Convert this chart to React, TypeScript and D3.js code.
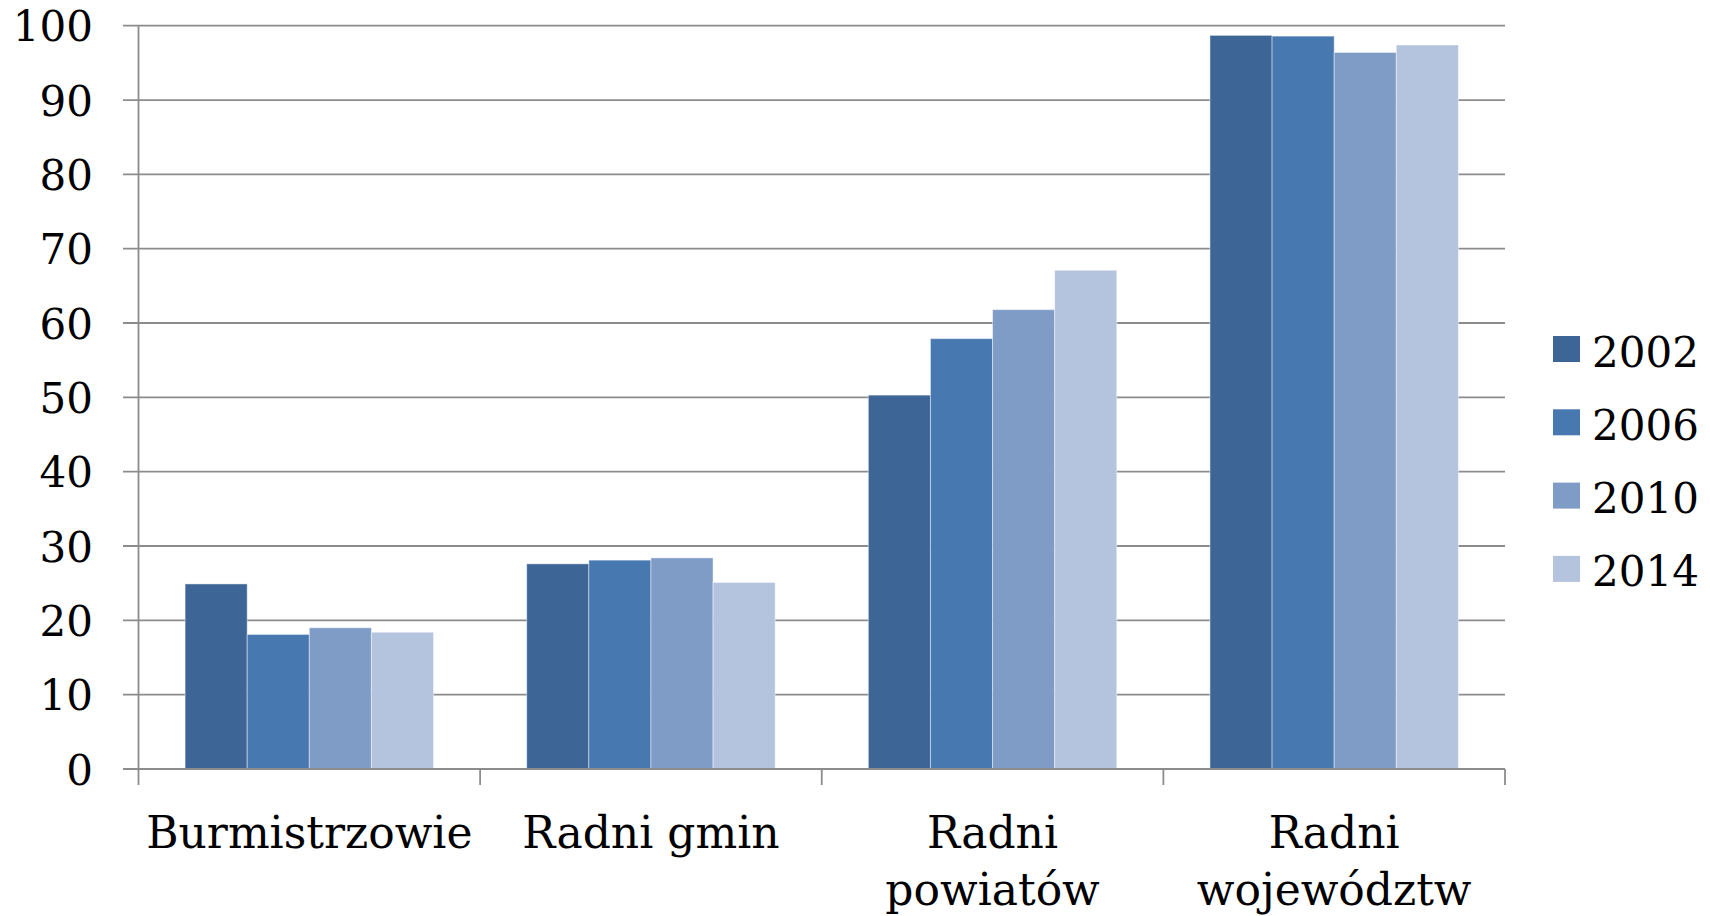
import React from "react";
import * as d3 from "d3";

const categories = ["Burmistrzowie", "Radni gmin", "Radni powiatów", "Radni województw"];
const categoryLines = [["Burmistrzowie"], ["Radni gmin"], ["Radni", "powiatów"], ["Radni", "województw"]];
const years = ["2002", "2006", "2010", "2014"];
const v2002 = [24.9, 27.6, 50.3, 98.7];
const v2006 = [18.1, 28.1, 57.9, 98.6];
const v2010 = [19.0, 28.4, 61.8, 96.4];
const v2014 = [18.4, 25.1, 67.1, 97.4];
const yTicks = [0, 10, 20, 30, 40, 50, 60, 70, 80, 90, 100];
const colors = ["#3d6595", "#4878b0", "#7f9cc7", "#b4c4de"];

const seriesValues = [v2002, v2006, v2010, v2014];

const W = 1710;
const H = 916;
const left = 138.5;
const right = 1505;
const top = 25.7;
const bottom = 769;
const FONT = "'DejaVu Serif', serif";

export default function App() {
  const x = d3.scaleBand<string>().domain(categories).range([left, right]).paddingInner(0).paddingOuter(0);
  const xs = d3.scaleBand<string>().domain(years).range([0, x.bandwidth()]).paddingInner(0).paddingOuter(0.75);
  const y = d3.scaleLinear().domain([0, 100]).range([bottom, top]);

  const tickXs = [...categories.map((c) => x(c) as number), right];

  return (
    <svg width={W} height={H} style={{ position: "absolute", left: 0, top: 0, background: "#fff" }} fontFamily={FONT}>
      {/* gridlines */}
      {yTicks.filter((t) => t > 0).map((t) => (
        <line key={t} x1={123} x2={right} y1={y(t)} y2={y(t)} stroke="#8c8c8c" strokeWidth={1.8} />
      ))}
      {/* bars */}
      {categories.map((c, ci) =>
        years.map((yr, si) => {
          const v = seriesValues[si][ci];
          const bx = (x(c) as number) + (xs(yr) as number);
          return (
            <rect
              key={c + yr}
              x={bx}
              y={y(v)}
              width={xs.bandwidth()}
              height={bottom - y(v)}
              fill={colors[si]}
              stroke="#ffffff"
              strokeOpacity={0.45}
              strokeWidth={1}
            />
          );
        })
      )}
      {/* axes */}
      <line x1={left} x2={left} y1={top} y2={bottom} stroke="#8c8c8c" strokeWidth={1.8} />
      <line x1={123} x2={right} y1={bottom} y2={bottom} stroke="#8c8c8c" strokeWidth={2} />
      {tickXs.map((tx, i) => (
        <line key={i} x1={tx} x2={tx} y1={bottom} y2={bottom + 16} stroke="#8c8c8c" strokeWidth={1.8} />
      ))}
      {/* y labels */}
      {yTicks.map((t) => (
        <text key={t} x={93} y={y(t) + 15.5} textAnchor="end" fontSize={42} fill="#000">
          {t}
        </text>
      ))}
      {/* x labels */}
      {categories.map((c, ci) => (
        <text key={c} x={(x(c) as number) + x.bandwidth() / 2} y={848} textAnchor="middle" fontSize={44} fill="#000">
          {categoryLines[ci].map((ln, li) => (
            <tspan key={li} x={(x(c) as number) + x.bandwidth() / 2} y={848 + li * 57}>
              {ln}
            </tspan>
          ))}
        </text>
      ))}
      {/* legend */}
      {years.map((yr, i) => (
        <g key={yr} transform={`translate(1553, ${336 + i * 73.3})`}>
          <rect x={0} y={0} width={27} height={26} fill={colors[i]} />
          <text x={39} y={30.5} fontSize={42} fill="#000">
            {yr}
          </text>
        </g>
      ))}
    </svg>
  );
}
